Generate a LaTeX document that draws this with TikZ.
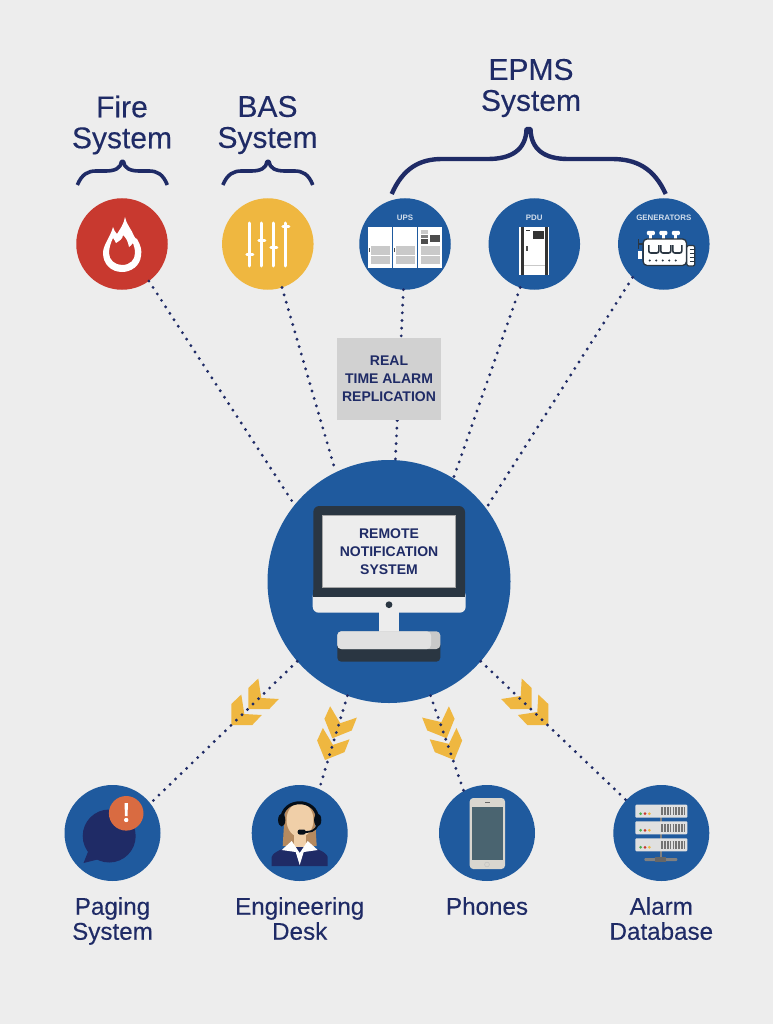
\documentclass[tikz,border=0pt]{standalone}
\usepackage{fontspec}
\setmainfont{Liberation Sans}
\newfontfamily\medfont{Liberation Sans}[FakeBold=0.25]
\usepackage{xcolor}
\usetikzlibrary{positioning}
\definecolor{bgc}{HTML}{EDEDED}
\definecolor{navyc}{HTML}{1F2B66}
\definecolor{bluec}{HTML}{1F5A9E}
\definecolor{redc}{HTML}{C8392F}
\definecolor{yellowc}{HTML}{EFB740}
\definecolor{darkc}{HTML}{2A3642}
\definecolor{panelc}{HTML}{C9C9C9}
\definecolor{skinc}{HTML}{F0CFA8}
\definecolor{hairc}{HTML}{B58A5F}
\definecolor{screenc}{HTML}{4A6470}
\definecolor{casec}{HTML}{D9D6CF}
\begin{document}
\begin{tikzpicture}[
  x=1pt, y=-1pt,
  disc/.style={circle, inner sep=0pt, outer sep=0pt, minimum size=#1},
  topdisc/.style={disc=91.5pt, fill=bluec},
  botdisc/.style={disc=96pt, fill=bluec},
  head/.style={align=center, text=navyc, font=\medfont\fontsize{30}{31}\selectfont, inner sep=0pt},
  foot/.style={align=center, text=navyc, font=\medfont\fontsize{24.2}{25}\selectfont, inner sep=0pt},
  tiny/.style={text=white!80!bluec, font=\fontsize{7.9}{9}\selectfont\bfseries, inner sep=0pt},
  alarm/.style={align=center, text=navyc, font=\fontsize{14}{18}\selectfont\bfseries, inner sep=0pt},
  dots/.style={navyc, line width=3.2pt, line cap=round, dash pattern=on 0pt off 7.7pt},
  curly/.style={navyc, line width=3.6pt, line cap=butt, line join=bevel},
  chev/.pic={\fill[yellowc] (0,0) -- (0,-21) -- (10,-30.5) -- (13,-11) -- (30.5,-10) -- (21,0) -- cycle;},
  rack/.pic={
    \fill[white!88!black, rounded corners=1pt] (-26,0) rectangle (26,13);
    \draw[black!55, line width=7.5pt, dash pattern=on 1.7pt off 1.1pt] (0,6.5) -- (25,6.5);
    \fill[green!55!black!70!white] (-20.7,9) circle (1.5pt);
    \fill[redc] (-16.3,9) circle (1.5pt);
    \fill[yellowc] (-12,9) circle (1.5pt);
  }
]
\fill[bgc] (0,0) rectangle (773,1024);
\useasboundingbox (0,0) rectangle (773,1024);

% source systems
\node[disc=91.5pt, fill=redc] (fire) at (122,244) {};
\node[disc=91.5pt, fill=yellowc, right=54.3pt of fire] (bas) {};
\node[topdisc, right=45.7pt of bas] (ups) {};
\node[topdisc, right=37.8pt of ups] (pdu) {};
\node[topdisc, right=38pt of pdu] (gen) {};

% notification centre and outputs
\node[disc=243pt, fill=bluec] (rns) at (389,581.5) {};
\node[botdisc] (paging) at (112.5,833) {};
\node[botdisc, right=91.2pt of paging] (desk) {};
\node[botdisc, right=91.3pt of desk] (phones) {};
\node[botdisc, right=78.3pt of phones] (db) {};

\node[head] (firelbl) at (122,125) {Fire\\System};
\node[head] (baslbl) at (267.5,125) {BAS\\System};
\node[head] (epmslbl) at (531,88) {EPMS\\System};
\node[foot, below=16pt of paging] (paginglbl) {Paging\\System};
\node[foot, below=16pt of desk] (desklbl) {Engineering\\Desk};
\node[foot, anchor=north] (phoneslbl) at (phones.south |- paginglbl.north) {Phones};
\node[foot, below=16pt of db] (dblbl) {Alarm\\Database};

% braces
\draw[curly] (77.3,185) .. controls (82,174) and (88,171) .. (96,171) -- (106,171) .. controls (115,171) and (121,168) .. (121.5,161.5) -- (123.5,161.5) .. controls (124,168) and (130,171) .. (139,171) -- (149,171) .. controls (157,171) and (163,174) .. (167.3,185);
\draw[curly] (222.8,185) .. controls (227.5,174) and (233.5,171) .. (241.5,171) -- (251.5,171) .. controls (260.5,171) and (266.5,168) .. (267,161.5) -- (269,161.5) .. controls (269.5,168) and (275.5,171) .. (284.5,171) -- (294.5,171) .. controls (302.5,171) and (308.5,174) .. (312.8,185);
\draw[curly, line width=4.4pt] (391.7,194) .. controls (403,168) and (420,159) .. (442,159) -- (488,159) .. controls (511,159) and (526,150) .. (526.5,129) -- (530.5,129) .. controls (531,150) and (545,159) .. (568,159) -- (612,159) .. controls (636,159) and (654,168) .. (665.7,194);

% chevrons below the centre
\pic[rotate=0] at (248.3,709) {chev};
\pic[rotate=0] at (231.3,725) {chev};
\pic[rotate=22] at (332.3,738.3) {chev};
\pic[rotate=22] at (325,760) {chev};
\pic[rotate=68] at (446.7,738.3) {chev};
\pic[rotate=68] at (454.3,760) {chev};
\pic[rotate=90] at (531.7,709) {chev};
\pic[rotate=90] at (548.3,725) {chev};

% links
\draw[dots] (fire.-54) -- (rns.141);
\draw[dots] (bas.-72) -- (rns.116);
\draw[dots] (ups.-92) -- (rns.87);
\draw[dots] (pdu.-108) -- (rns.58);
\draw[dots] (gen.-133) -- (rns.37);
\draw[dots] (rns.221) -- (paging.38);
\draw[dots] (rns.250) -- (desk.66);
\draw[dots] (rns.290) -- (phones.119);
\draw[dots] (rns.319) -- (db.137);

\node[alarm, fill=panelc!85!white, minimum width=104pt, minimum height=82pt] (relay) at (389,379) {REAL\\TIME ALARM\\REPLICATION};

% monitor
\fill[darkc, rounded corners=6pt] (313.3,597) -- (313.3,506) -- (465,506) -- (465,597) -- cycle;
\fill[bgc, rounded corners=6pt] (312.7,590) -- (312.7,612.7) -- (465.7,612.7) -- (465.7,590) -- cycle;
\fill[darkc] (313.3,590) rectangle (465,596.7);
\fill[darkc] (389,604.7) circle (3.4pt);
\fill[bgc] (379.3,612) rectangle (398.7,632);
\fill[darkc, rounded corners=4pt] (337.3,640) -- (337.3,661.7) -- (440.3,661.7) -- (440.3,640) -- cycle;
\fill[panelc, rounded corners=4pt] (337.3,649) -- (337.3,631.3) -- (440.3,631.3) -- (440.3,649) -- cycle;
\fill[bgc!95!black, rounded corners=4pt] (337.3,649) -- (337.3,631.3) -- (431,631.3) -- (431,649) -- cycle;
\node[alarm, fill=bgc, draw=black!35, line width=0.8pt, minimum width=133pt, minimum height=72.5pt] (screen) at (389,551.5) {REMOTE\\NOTIFICATION\\SYSTEM};

% fire icon
\begin{scope}[shift={(fire.center)}]
  \fill[white, even odd rule] (3,-27) .. controls (4,-20) and (10,-14) .. (12,-8) .. controls (13,-6) and (14,-5) .. (15,-5) .. controls (19,2) and (20,6) .. (19,12) .. controls (18,22) and (9,28) .. (0,28) .. controls (-11,28) and (-19,20) .. (-19,9) .. controls (-19,1) and (-12,-6) .. (-9,-17) .. controls (-8,-14) and (-7,-12) .. (-5,-10) .. controls (-2,-15) and (2,-20) .. (3,-27) -- cycle
    (1,-9) .. controls (1,-5) and (-3,-3) .. (-6,-1) .. controls (-7,-3) and (-8,-5) .. (-9,-6) .. controls (-11,-2) and (-13,4) .. (-13,9) .. controls (-13,16) and (-7,21) .. (0,21) .. controls (8,21) and (13,16) .. (13,9) .. controls (13,5) and (12,2) .. (11,-1) .. controls (10,1) and (8,2) .. (7,3) .. controls (6,-3) and (4,-6) .. (1,-9) -- cycle;
\end{scope}

% slider icon
\begin{scope}[shift={(bas.center)}, white, line width=3pt, line cap=round]
  \draw (-18,-21) -- (-18,22);
  \draw (-6,-21) -- (-6,22);
  \draw (6,-21) -- (6,22);
  \draw (18,-21) -- (18,22);
  \draw (-21,10) -- (-15,10);
  \draw (-9,-4) -- (-3,-4);
  \draw (3,3) -- (9,3);
  \draw (15,-17) -- (21,-17);
\end{scope}

% ups cabinets
\node[tiny] (upslbl) at ([yshift=26pt]ups.center) {UPS};
\begin{scope}[shift={(ups.center)}]
  \fill[white] (-36.7,-16.7) rectangle (-12.7,24);
  \fill[white] (-11.7,-16.7) rectangle (11.7,24);
  \fill[white] (13.3,-16.7) rectangle (36.7,24);
  \fill[panelc] (-34,2.3) rectangle (-15,10.7);
  \fill[panelc] (-34,12.3) rectangle (-15,20);
  \fill[panelc] (-9,2.3) rectangle (10,10.7);
  \fill[panelc] (-9,12.3) rectangle (10,20);
  \fill[panelc] (15.5,2.3) rectangle (34.5,10.7);
  \fill[panelc] (15.5,12.3) rectangle (34.5,20);
  \fill[black!70] (-36.5,4) rectangle (-35,8);
  \fill[black!70] (-11.5,4) rectangle (-10,8);
  \fill[panelc] (15.5,-14) rectangle (23,-10);
  \fill[black!70] (25,-9.5) rectangle (34.5,-2);
  \fill[black!70] (15.5,-5) rectangle (23,0);
  \fill[black!50] (15.5,-9) rectangle (23,-6.5);
\end{scope}

% pdu cabinet
\node[tiny] (pdulbl) at ([yshift=26pt]pdu.center) {PDU};
\begin{scope}[shift={(pdu.center)}]
  \fill[white] (-15,-16.7) rectangle (15,30.7);
  \fill[black!80] (-13.5,-16.7) rectangle (-10.8,30.7);
  \fill[black!80] (10.8,-16.7) rectangle (13.5,30.7);
  \fill[black!80] (-1,-12.7) rectangle (10,-5.3);
  \fill[black!80] (-8.5,-14) rectangle (-4.5,-12.7);
  \fill[black!70] (-8.5,2.3) rectangle (-6,6.7);
  \fill[panelc] (-10.8,21) rectangle (10.8,22);
\end{scope}

% engine
\node[tiny] (genlbl) at ([yshift=26pt]gen.center) {GENERATORS};
\begin{scope}[shift={(gen.center)}]
  \fill[white, rounded corners=1pt] (-17,-13) rectangle (-9,-9);
  \fill[white, rounded corners=1pt] (-4.5,-13) rectangle (3.5,-9);
  \fill[white, rounded corners=1pt] (8,-13) rectangle (16,-9);
  \draw[white, line width=3pt] (-13,-10) -- (-13,-4);
  \draw[white, line width=3pt] (-0.5,-10) -- (-0.5,-4);
  \draw[white, line width=3pt] (12,-10) -- (12,-4);
  \draw[darkc, line width=1.3pt, fill=white, rounded corners=4pt] (-20.7,-5) rectangle (22.7,21.5);
  \draw[darkc, line width=1.2pt, fill=white, rounded corners=2pt] (23,1.5) rectangle (31,22);
  \draw[darkc, line width=0.8pt] (26,5.5) -- (31,5.5);
  \draw[darkc, line width=0.8pt] (26,9.5) -- (31,9.5);
  \draw[darkc, line width=0.8pt] (26,13.5) -- (31,13.5);
  \draw[darkc, line width=0.8pt] (26,17.5) -- (31,17.5);
  \draw[darkc, line width=1.3pt] (-25,-5) -- (-25,5);
  \draw[darkc, line width=1.3pt] (-25,0) -- (-20.7,0);
  \fill[white] (-25.5,7) rectangle (-21.5,15);
  \draw[darkc, line width=1.6pt, rounded corners=2pt] (-15,1) -- (-15,9) -- (-5,9) -- (-5,1);
  \draw[darkc, line width=1.6pt, rounded corners=2pt] (-3,1) -- (-3,9) -- (7,9) -- (7,1);
  \draw[darkc, line width=1.6pt, rounded corners=2pt] (9,1) -- (9,9) -- (18,9) -- (18,1);
  \fill[darkc] (-14,16.5) circle (1.1pt);
  \fill[darkc] (-7.5,16.5) circle (1.1pt);
  \fill[darkc] (-1,16.5) circle (1.1pt);
  \fill[darkc] (5.5,16.5) circle (1.1pt);
  \fill[darkc] (12,16.5) circle (1.1pt);
\end{scope}

% paging icon
\begin{scope}[shift={(paging.center)}]
  \fill[navyc] (-3.3,3) circle (26.5pt);
  \fill[navyc] (-23,15) -- (-29,30) -- (-13,26) -- cycle;
  \fill[red!45!orange!70!white!85!black] (13.7,-19.7) circle (17.3pt);
  \fill[white] (12,-30) -- (15.5,-30) -- (15,-17) -- (12.5,-17) -- cycle;
  \fill[white] (13.7,-13) circle (2.2pt);
\end{scope}

% operator icon
\begin{scope}[shift={(desk.center)}]
  \fill[hairc] (-17,13) -- (-15,-20) .. controls (-12,-28) and (-6,-31) .. (0,-31) .. controls (6,-31) and (12,-28) .. (15,-20) -- (17,13) -- cycle;
  \fill[navyc] (-28,33) -- (-28,24) .. controls (-26,18) and (-16,16) .. (-8,12) -- (8,12) .. controls (16,16) and (26,18) .. (28,24) -- (28,33) -- cycle;
  \fill[skinc] (-6,-2) rectangle (6,14);
  \fill[white] (-8,8) -- (-18,17) -- (-4,19) -- (0,32) -- (4,19) -- (18,17) -- (8,8) -- (0,20) -- cycle;
  \fill[skinc] (0.3,-13) ellipse (13.5pt and 17pt);
  \draw[black!85!bluec, line width=3pt] (-18,-13) .. controls (-18,-36) and (18,-36) .. (18,-13);
  \fill[black!85!bluec] (-18,-13) ellipse (3.6pt and 6.5pt);
  \fill[black!85!bluec] (18,-13) ellipse (3.6pt and 6.5pt);
  \draw[black!85!bluec, line width=1.8pt] (18,-9) .. controls (16,-1) and (10,-1) .. (3,-1);
  \fill[black!85!bluec, rounded corners=2pt] (-2,-3.5) rectangle (6,1.5);
\end{scope}

% phone icon
\begin{scope}[shift={(phones.center)}]
  \fill[casec, rounded corners=3.5pt] (-17.3,-35) rectangle (18,36);
  \fill[screenc] (-15,-26) rectangle (15.7,27);
  \fill[black!60] (-2.5,-31.5) rectangle (2.5,-30);
  \draw[black!25, line width=0.5pt] (0,31.5) circle (2.4pt);
\end{scope}

% server icon
\begin{scope}[shift={(db.center)}]
  \draw[black!50, line width=2pt] (0,-16) -- (0,26);
  \pic at (0,-28.3) {rack};
  \pic at (0,-11.7) {rack};
  \pic at (0,5.3) {rack};
  \fill[black!50, rounded corners=1pt] (-17,25) rectangle (16,28);
  \fill[black!60] (-6,23.5) rectangle (5,29);
\end{scope}
\end{tikzpicture}
\end{document}
